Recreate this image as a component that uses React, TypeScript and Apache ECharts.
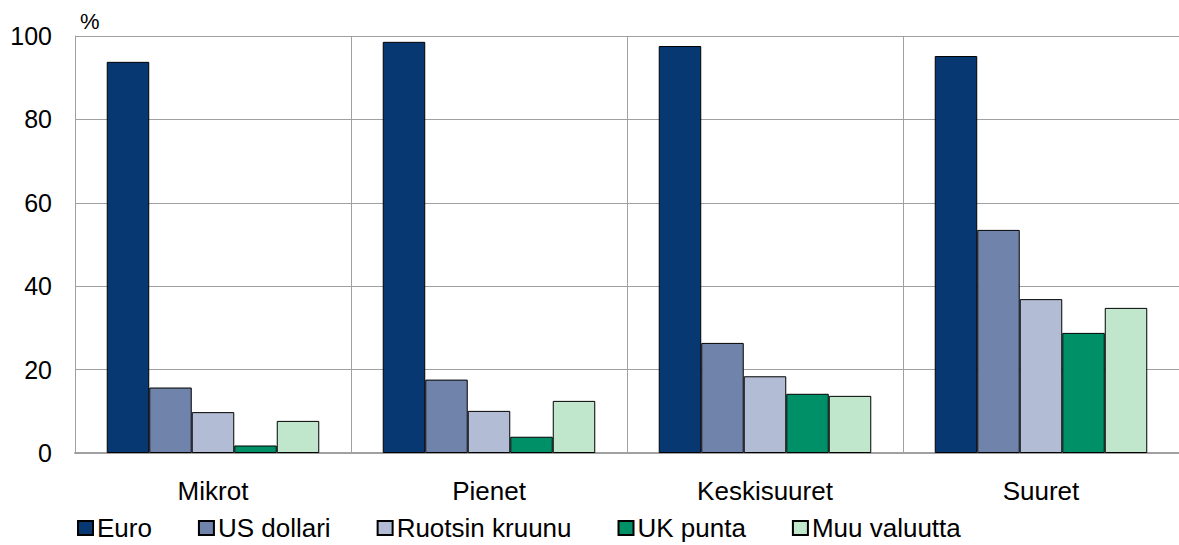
import React, { useEffect, useRef } from "react";
import * as echarts from "echarts";

const categories = ["Mikrot", "Pienet", "Keskisuuret", "Suuret"];
const seriesNames = ["Euro", "US dollari", "Ruotsin kruunu", "UK punta", "Muu valuutta"];
const euro = [93.8, 98.6, 97.6, 95.2];
const usDollari = [15.7, 17.6, 26.4, 53.5];
const ruotsinKruunu = [9.8, 10.1, 18.4, 36.9];
const ukPunta = [1.8, 3.9, 14.2, 28.8];
const muuValuutta = [7.7, 12.5, 13.7, 34.8];
const colors = ["#083872", "#6f83ab", "#b2bcd5", "#009068", "#c0e6cc"];
const yTicks = [0, 20, 40, 60, 80, 100];

export default function App() {
  const ref = useRef<HTMLDivElement>(null);
  useEffect(() => {
    if (!ref.current) return;
    const chart = echarts.init(ref.current, null, { renderer: "svg" });
    const values = [euro, usDollari, ruotsinKruunu, ukPunta, muuValuutta];
    const font = "Liberation Sans, Arial, sans-serif";
    chart.setOption({
      animation: false,
      textStyle: { fontFamily: font },
      grid: { left: 75, top: 36, width: 1110, height: 417, containLabel: false },
      legend: {
        left: 77,
        top: 515,
        padding: 0,
        itemWidth: 15,
        itemHeight: 14,
        itemGap: 46,
        icon: "rect",
        textStyle: { fontSize: 26, color: "#000", fontFamily: font, padding: [0, 0, 0, -1] },
        data: seriesNames,
      },
      graphic: [
        {
          type: "text",
          left: 80,
          top: 10,
          style: { text: "%", fontSize: 22, fill: "#000", fontFamily: font },
        },
      ],
      xAxis: {
        type: "category",
        data: categories,
        axisLine: { lineStyle: { color: "#a0a0a0", width: 2 } },
        axisTick: { show: false },
        axisLabel: { fontSize: 26, color: "#000", margin: 25, fontFamily: font },
        splitLine: { show: true, lineStyle: { color: "#a0a0a0", width: 1 } },
      },
      yAxis: {
        type: "value",
        min: 0,
        max: 100,
        interval: 20,
        axisLine: { show: true, lineStyle: { color: "#a0a0a0", width: 1 } },
        axisTick: { show: false },
        axisLabel: {
          fontSize: 25,
          color: "#000",
          margin: 23,
          fontFamily: font,
          formatter: (v: number) => (yTicks.includes(v) ? String(v) : ""),
        },
        splitLine: { lineStyle: { color: "#a0a0a0", width: 1 } },
      },
      series: seriesNames.map((name, i) => ({
        name,
        type: "bar",
        data: values[i],
        barGap: "0%",
        barCategoryGap: "23%",
        itemStyle: { color: colors[i], borderColor: "#000", borderWidth: 1 },
      })),
    });
    return () => chart.dispose();
  }, []);
  return (
    <div
      ref={ref}
      style={{ position: "absolute", left: 0, top: 0, width: 1179, height: 545 }}
    />
  );
}
